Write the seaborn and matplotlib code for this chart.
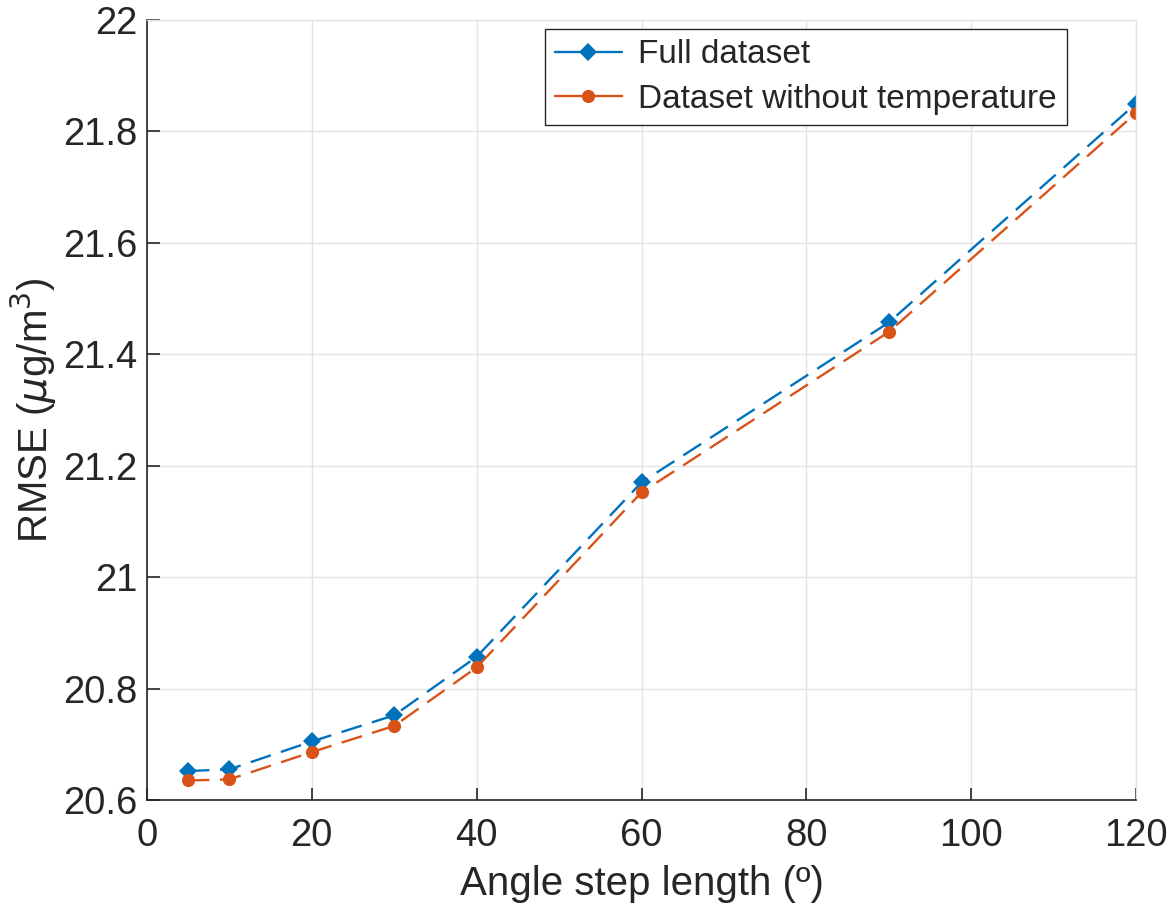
import matplotlib
matplotlib.use("Agg")
import matplotlib.pyplot as plt
import seaborn as sns
import pandas as pd
from matplotlib.lines import Line2D

angles = [5, 10, 20, 30, 40, 60, 90, 120]
rmse_full = [20.652, 20.655, 20.705, 20.752, 20.857, 21.170, 21.457, 21.850]
rmse_no_temp = [20.635, 20.637, 20.686, 20.733, 20.838, 21.152, 21.440, 21.833]
series_names = ["Full dataset", "Dataset without temperature"]
x_ticks = [0, 20, 40, 60, 80, 100, 120]
y_ticks = [20.6, 20.8, 21.0, 21.2, 21.4, 21.6, 21.8, 22.0]
y_tick_labels = ["20.6", "20.8", "21", "21.2", "21.4", "21.6", "21.8", "22"]

sns.set_theme(style="white")
plt.rcParams['font.family'] = ['Liberation Sans', 'DejaVu Sans']
plt.rcParams['mathtext.fontset'] = 'dejavusans'

blue = "#0072BD"
orange = "#D95319"

df = pd.DataFrame({
    "angle": angles * 2,
    "rmse": rmse_full + rmse_no_temp,
    "series": [series_names[0]] * len(angles) + [series_names[1]] * len(angles),
})

fig = plt.figure(figsize=(11.7, 9.06), dpi=100)
ax = fig.add_axes([0.1256, 0.117, 0.8454, 0.861])

sns.lineplot(data=df, x="angle", y="rmse", hue="series", style="series",
             palette=[blue, orange], markers=["D", "o"],
             dashes=[(9, 4.5), (9, 4.5)], linewidth=1.7, markersize=9.5,
             markeredgewidth=0, ax=ax, legend=False)

ax.set_xlim(0, 120)
ax.set_ylim(20.6, 22.0)
ax.set_xticks(x_ticks)
ax.set_yticks(y_ticks)
ax.set_yticklabels(y_tick_labels)
ax.grid(True, color="#e3e3e3", linewidth=1.0)
ax.set_axisbelow(True)
ax.tick_params(axis="both", direction="in", length=9, width=1.2,
               labelsize=27.5, colors="#262626", pad=7,
               bottom=True, left=True, top=False, right=False)
ax.tick_params(axis="x", pad=13)
for s in ["left", "bottom"]:
    ax.spines[s].set_color("#262626")
    ax.spines[s].set_linewidth(1.2)
for s in ["top", "right"]:
    ax.spines[s].set_color("#e3e3e3")
    ax.spines[s].set_linewidth(1.0)

ax.set_xlabel("Angle step length (º)", fontsize=29, color="#262626", labelpad=8)
ax.set_ylabel(r"RMSE ($\mu$g/m$^3$)", fontsize=29, color="#262626", labelpad=3)

handles = [
    Line2D([], [], color=blue, lw=1.7, marker="D", markersize=9, markeredgewidth=0),
    Line2D([], [], color=orange, lw=1.7, marker="o", markersize=9.5, markeredgewidth=0),
]
leg = ax.legend(handles, series_names, loc="upper right",
                bbox_to_anchor=(0.93, 0.988), fontsize=24, frameon=True,
                fancybox=False, edgecolor="#262626", framealpha=1,
                handlelength=2.0, handletextpad=0.5, borderpad=0.3,
                labelspacing=0.4, borderaxespad=0)
leg.get_frame().set_linewidth(1.0)

fig.savefig("out.png", dpi=100)
